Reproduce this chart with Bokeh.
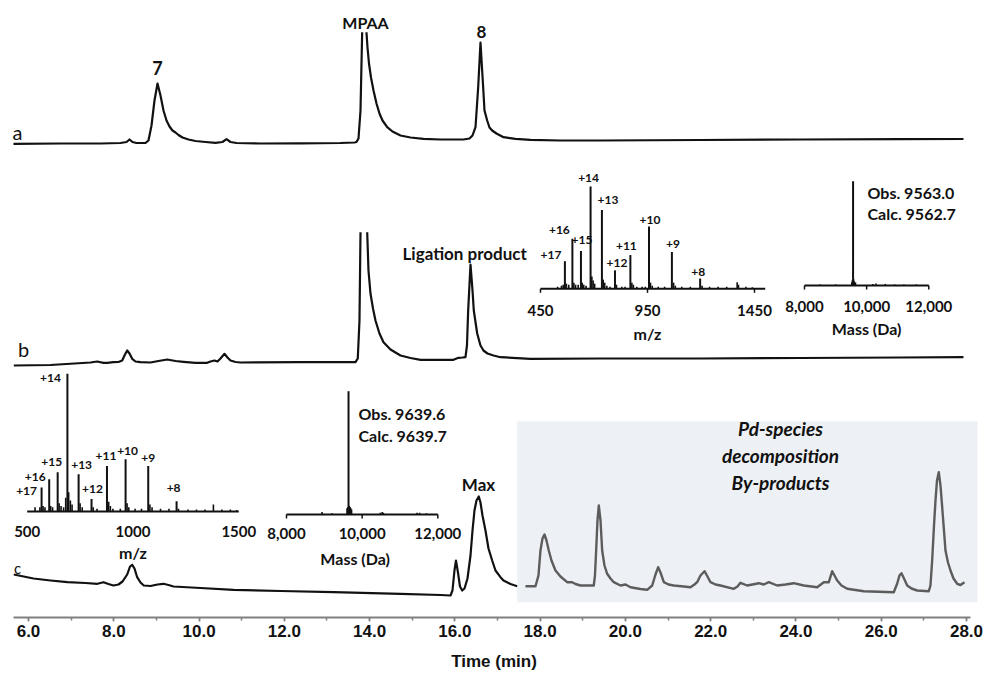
import numpy as np
from bokeh.plotting import figure
from bokeh.models import Range1d, SingleIntervalTicker, NumeralTickFormatter, BoxAnnotation
from bokeh.core.properties import value
from bokeh.embed import file_html
from bokeh.resources import INLINE

nan = float("nan")

# ---------------- data ----------------
# Chromatogram a (time in min, signal in arbitrary units above its baseline)
time_a = [5.648, 6.751, 7.689, 8.158, 8.299, 8.369, 8.439, 8.533, 8.744, 8.814, 8.885, 8.955,
          9.026, 9.096, 9.166, 9.237, 9.307, 9.377, 9.448, 9.518, 9.612, 9.753, 9.917, 10.151,
          10.386, 10.550, 10.644, 10.738, 10.878, 11.441, 12.379, 13.318, 13.646, 13.693, 13.740,
          13.787, 13.826, nan, 13.927, 13.951, 13.986, 14.033, 14.092, 14.162, 14.232, 14.303,
          14.413, 14.537, 14.725, 14.960, 15.264, 15.663, 16.202, 16.343, 16.414, 16.484, 16.547,
          16.601, 16.664, 16.695, 16.758, 16.812, 16.875, 16.976, 17.141, 17.422, 17.774, 18.477,
          19.416, 21.761, 24.106, 26.452, 27.929]
signal_a = [-0.3, 0, 0, 0.5, 1.5, 4, 1.5, 0.5, 0.5, 3, 18, 43,
            60, 48, 33, 23, 17, 13, 11, 8.5, 6, 4, 2.5, 1.5,
            0.7, 1.5, 4.3, 1.5, 0.5, 0, 0.2, 0.5, 1, 1.5, 5,
            33, 111.3, nan, 111.3, 96, 80, 66, 53, 40, 30, 23,
            16.3, 12, 8, 6, 4.7, 4, 4, 5, 8, 16.3, 56.3,
            101, 56.3, 33, 23, 16, 13, 10, 6.3, 4.7, 3.7, 3,
            3, 3.5, 4, 4.3, 4.5]

# Chromatogram b
time_b = [5.655, 6.516, 7.454, 7.611, 7.759, 7.846, 7.993, 8.111, 8.198, 8.263, 8.315, 8.369,
          8.432, 8.510, 8.627, 8.861, 9.049, 9.253, 9.448, 9.635, 9.917, 10.191, 10.269, 10.362,
          10.433, 10.503, 10.597, 10.667, 10.738, 10.855, 10.972, 12.379, 13.669, 13.723, 13.763,
          13.787, nan, 13.944, 13.974, 14.021, 14.080, 14.138, 14.232, 14.326, 14.490, 14.725,
          14.960, 15.194, 15.968, 16.085, 16.179, 16.249, 16.284, 16.312, 16.367, 16.414, 16.444,
          16.524, 16.601, 16.671, 16.765, 16.906, 17.070, 17.774, 19.416, 21.761, 24.106, 26.452,
          27.929]
signal_b = [0, 0.5, 3, 4, 2.7, 2.7, 3.3, 3.5, 5, 11, 15, 12,
            6.7, 4, 3.3, 3, 4.5, 6, 4.5, 3.7, 2.7, 2.7, 4, 5,
            4, 7, 11.7, 8, 5, 3.5, 3, 3.3, 3.3, 7, 45,
            133.3, nan, 133.3, 95, 72, 57, 45, 32, 23.3, 16, 10,
            7.5, 5.7, 5.7, 7.7, 8, 8.3, 20, 55, 101, 75, 55,
            32, 20, 15, 12, 10, 8.3, 6.7, 7, 7, 7.5, 8,
            8.3]

# Chromatogram c
time_c = [5.655, 6.117, 6.516, 6.915, 7.337, 7.618, 7.759, 7.876, 7.993, 8.111,
          8.205, 8.315, 8.381, 8.432, 8.486, 8.549, 8.627, 8.704, 8.861, 9.026,
          9.166, 9.284, 9.401, 10.034, 10.808, 11.910, 13.153, 14.725, 15.663, 15.898,
          15.944, 15.991, 16.026, 16.073, 16.120, 16.172, 16.226, 16.296, 16.367, 16.414,
          16.460, 16.507, 16.561, 16.601, 16.648, 16.718, 16.789, 16.875, 16.953, 17.070,
          17.141, 17.305, 17.462, 17.656, 17.891, 17.961, 18.008, 18.055, 18.102, 18.149,
          18.203, 18.266, 18.360, 18.477, 18.634, 18.752, 18.829, 18.946, 19.181, 19.258,
          19.286, 19.314, 19.345, 19.376, 19.416, 19.455, 19.509, 19.572, 19.650, 19.727,
          19.884, 20.002, 20.119, 20.354, 20.511, 20.628, 20.706, 20.769, 20.823, 20.901,
          21.011, 21.135, 21.369, 21.526, 21.620, 21.683, 21.761, 21.855, 21.925, 21.996,
          22.113, 22.230, 22.542, 22.629, 22.699, 22.856, 22.981, 23.128, 23.245, 23.363,
          23.560, 23.755, 23.949, 24.184, 24.498, 24.653, 24.771, 24.850, 24.904, 24.967,
          25.068, 25.202, 25.591, 26.295, 26.375, 26.428, 26.475, 26.534, 26.609, 26.710,
          26.844, 27.116, 27.155, 27.195, 27.238, 27.273, 27.308, 27.350, 27.390, 27.430,
          27.472, 27.507, 27.566, 27.625, 27.695, 27.782, 27.859, 27.953]
signal_c = [21, 17, 15, 13.3, 12.5, 11.7, 13.3, 11.5, 10, 11,
            14, 21, 29, 30.7, 27, 18.3, 13, 10, 9.5, 11,
            11.7, 10.5, 9, 7.5, 5.7, 4.5, 3.3, 1.7, 0.5, 0,
            5, 25, 35, 23, 9, 5, 7, 17, 40, 65,
            85, 95, 99, 93, 80, 65, 47, 35, 25, 18.3,
            15, 11.5, 9.3, 9.3, 9.3, 20, 45, 57, 61, 55,
            45, 35, 25, 19, 13.3, 13.3, 11.5, 10, 10, 10,
            20, 45, 75, 90, 75, 45, 30, 21.7, 17, 13.3,
            10, 11, 8.3, 6.5, 5.7, 10, 21, 28.3, 23, 13.3,
            11, 10, 9, 8.3, 11, 13.3, 20, 24.3, 19, 13.3,
            11, 10, 6.7, 9, 12.7, 10, 11, 12.3, 11, 13.3,
            10, 11, 12.3, 10, 8.3, 13.3, 13.3, 24.3, 20, 15,
            10, 6.7, 4.3, 3.3, 12, 20, 22.3, 17, 10, 7,
            5, 4.3, 10, 35, 70, 95, 115, 123.3, 110, 88.3,
            65, 45, 33, 25, 17, 11.7, 10.5, 13.3]

# ESI-MS insets (relative intensity, %)
charge_labels = ["+17", "+16", "+15", "+14", "+13", "+12", "+11", "+10", "+9", "+8"]
b_mz = [564, 599, 639, 684, 737, 798, 870, 957, 1064, 1196]
b_mz_int = [27, 49, 37, 100, 77, 18, 33, 61, 36, 10]
b_mz_minor = [530, 548, 556, 571, 582, 606, 614, 626, 645, 652, 663, 690, 696, 703, 743, 750,
              760, 775, 805, 830, 845, 877, 884, 900, 925, 940, 964, 972, 1000, 1030, 1072,
              1080, 1110, 1150, 1205, 1240, 1280, 1320, 1369, 1375, 1410, 1440]
b_mz_minor_int = [2, 3, 4, 5, 4, 6, 4, 4, 6, 4, 3, 12, 8, 5, 9, 6,
                  3, 2, 4, 2, 2, 6, 4, 2, 2, 2, 6, 3, 2, 2, 6,
                  3, 2, 2, 3, 2, 2, 2, 6.5, 4, 2, 1.5]
b_mass = [9563]
b_mass_int = [100]
b_mass_minor = [8500, 9000, 9520, 9540, 9580, 9600, 9640, 10200, 10300, 10600, 10900, 11200, 11600]
b_mass_minor_int = [1, 1, 3, 5, 6, 4, 3, 1.5, 2, 1.5, 1, 1, 1]

c_mz = [568, 604, 644, 690, 743, 804, 877, 965, 1072, 1206]
c_mz_int = [17.5, 23.5, 28.5, 100, 27, 9, 33, 38, 33, 7.5]
c_mz_minor = [537, 560, 575, 584, 611, 620, 651, 660, 672, 682, 696, 704, 712, 750, 760, 812,
              830, 885, 893, 905, 940, 972, 980, 1010, 1040, 1080, 1090, 1130, 1170, 1215,
              1260, 1300, 1340, 1380, 1420, 1460, 1490]
c_mz_minor_int = [3, 3, 4, 3, 4, 3, 6, 4, 3, 10, 14, 8, 5, 6, 3, 3,
                  2, 7, 4, 2, 2, 6, 3, 2, 2, 5, 3, 2, 2, 2,
                  1.5, 1.5, 1.5, 5, 1.5, 1.5, 1]
c_mass = [9640]
c_mass_int = [100]
c_mass_minor = [8940, 9200, 9600, 9620, 9660, 9680, 9700, 9720, 10480, 10530, 10560, 11450, 11520, 11700]
c_mass_minor_int = [2, 1, 5, 6, 7, 6, 5, 4, 1.5, 2, 1.5, 1.5, 1.5, 1]

mz_ticks_b = [450, 950, 1450]
mass_ticks = [8000, 10000, 12000]
mz_ticks_c = [500, 1000, 1500]

# ---------------- layout ----------------
W, H = 987, 683
FRAME_H = 617
PX_PER_MIN = 42.636
X_AT_6 = 28.0
x_start = 6.0 - X_AT_6 / PX_PER_MIN
x_end = x_start + W / PX_PER_MIN


def T(px):
    return x_start + px / PX_PER_MIN


def Y(py):
    return FRAME_H - py


FONT = value("Lato")
AXFONT = "Liberation Sans"
INK = "#111111"

p = figure(width=W, height=H, output_backend="svg", toolbar_location=None,
           x_range=Range1d(x_start, x_end), y_range=Range1d(0, FRAME_H),
           y_axis_location=None, min_border_left=0, min_border_right=0,
           min_border_top=0, min_border_bottom=H - FRAME_H)
p.outline_line_color = None
p.grid.visible = False
p.background_fill_color = "white"
p.border_fill_color = "white"

ax = p.xaxis[0]
ax.ticker = SingleIntervalTicker(interval=2, num_minor_ticks=2)
ax.formatter = NumeralTickFormatter(format="0.0")
ax.bounds = (T(13), T(970))
ax.axis_line_color = "#808080"
ax.axis_line_width = 2
ax.major_tick_line_color = "#808080"
ax.major_tick_line_width = 1.5
ax.major_tick_in = 0
ax.major_tick_out = 4
ax.minor_tick_line_color = "#808080"
ax.minor_tick_line_width = 1.5
ax.minor_tick_in = 0
ax.minor_tick_out = 3
ax.major_label_text_font = AXFONT
ax.major_label_text_font_style = "bold"
ax.major_label_text_font_size = "17px"
ax.major_label_text_color = INK
ax.major_label_standoff = 3
ax.axis_label = "Time (min)"
ax.axis_label_text_font = AXFONT
ax.axis_label_text_font_style = "bold"
ax.axis_label_text_font_size = "17px"
ax.axis_label_text_color = INK
ax.axis_label_standoff = 12

# shaded region of by-products
box_t0 = T(516.7)
p.add_layout(BoxAnnotation(left=box_t0, right=T(977), bottom=Y(601.7), top=Y(420.7),
                           fill_color="#edf0f4", fill_alpha=1.0, line_color=None,
                           level="underlay"))

# chromatograms
base_a, base_b, base_c = Y(143), Y(365), Y(595)
p.line(time_a, np.array(signal_a) + base_a, line_color=INK, line_width=2.2, line_join="round")
p.line(time_b, np.array(signal_b) + base_b, line_color=INK, line_width=2.2, line_join="round")
tc = np.array(time_c)
sc = np.array(signal_c) + base_c
m1 = tc <= box_t0 + 1e-6
m2 = tc >= box_t0 - 1e-6
p.line(tc[m1], sc[m1], line_color=INK, line_width=2.2, line_join="round")
p.line(tc[m2], sc[m2], line_color="#5c5c5c", line_width=2.4, line_join="round")


def txt(px, py, s, size, style="bold", align="center", color=INK):
    p.text(x=[T(px)], y=[Y(py)], text=[s], text_font=FONT, text_font_style=style,
           text_font_size=size, text_align=align, text_baseline="middle", text_color=color)


txt(17, 131, "a", "20px", "normal")
txt(23, 348, "b", "20px", "normal")
txt(17, 567, "c", "15px", "normal")
txt(157, 67, "7", "18px")
txt(365, 22, "MPAA", "16px")
txt(481, 31, "8", "17px")
txt(402, 253, "Ligation product", "17px", align="left")
txt(478, 484, "Max", "17px")
txt(780, 428, "Pd-species", "19px", "bold italic")
txt(780, 455, "decomposition", "19px", "bold italic")
txt(780, 482, "By-products", "19px", "bold italic")
txt(867, 192, "Obs. 9563.0", "16px", align="left")
txt(867, 213, "Calc. 9562.7", "16px", align="left")
txt(358, 413, "Obs. 9639.6", "16px", align="left")
txt(358, 435, "Calc. 9639.7", "16px", align="left")


# ---------------- insets ----------------
def add_inset(name, d0, d1, px0, px1, base_py, top_py):
    upp = (d1 - d0) / (px1 - px0)
    xs = d0 - px0 * upp
    vpp = 100.0 / (base_py - top_py)
    ys = -(FRAME_H - base_py) * vpp
    p.extra_x_ranges[name] = Range1d(xs, xs + W * upp)
    p.extra_y_ranges[name] = Range1d(ys, ys + FRAME_H * vpp)
    return vpp


def draw_inset(name, vpp, span, ticks, tick_text, tick_dy, ticks_on, title, title_dy, title_dx,
               xs, hs, xs_minor, hs_minor, labels=None, ldx=None, ldy=None, main_w=2.0):
    kw = dict(x_range_name=name, y_range_name=name)
    # sticks
    p.segment(x0=xs_minor, y0=[0] * len(xs_minor), x1=xs_minor, y1=hs_minor,
              line_color=INK, line_width=1.6, **kw)
    p.segment(x0=xs, y0=[0] * len(xs), x1=xs, y1=hs, line_color=INK, line_width=main_w, **kw)
    # axis line & ticks
    p.segment(x0=[span[0]], y0=[0], x1=[span[1]], y1=[0], line_color=INK, line_width=2, **kw)
    if ticks_on:
        p.segment(x0=ticks, y0=[0] * len(ticks), x1=ticks, y1=[-4 * vpp] * len(ticks),
                  line_color=INK, line_width=1.5, **kw)
    p.text(x=ticks, y=[0] * len(ticks), text=tick_text, y_offset=tick_dy, text_font=FONT,
           text_font_style="bold", text_font_size="15px", text_align="center",
           text_baseline="middle", text_color=INK, **kw)
    p.text(x=[ticks[1]], y=[0], text=[title], y_offset=title_dy, x_offset=title_dx,
           text_font=FONT, text_font_style="bold", text_font_size="16px", text_align="center",
           text_baseline="middle", text_color=INK, **kw)
    if labels:
        p.text(x=xs, y=hs, text=labels, x_offset=ldx, y_offset=[-d for d in ldy],
               text_font=FONT, text_font_style="bold", text_font_size="12px",
               text_align="center", text_baseline="middle", text_color=INK, **kw)


v = add_inset("bmz", 450, 1450, 540, 754, 288.3, 186)
draw_inset("bmz", v, (450, 1500), mz_ticks_b, [str(t) for t in mz_ticks_b], 22, True, "m/z", 45, 0,
           b_mz, b_mz_int, b_mz_minor, b_mz_minor_int, charge_labels,
           [-14, -13, 1, -2, 6, 2, -4, 1, 1, -2], [6, 9, 11, 9, 10, 7, 9, 6, 8, 7])

v = add_inset("bmass", 8000, 12000, 804, 928.3, 285, 180.7)
draw_inset("bmass", v, (8000, 12000), mass_ticks, ["{:,}".format(t) for t in mass_ticks], 21, True,
           "Mass (Da)", 43, 0, b_mass, b_mass_int, b_mass_minor, b_mass_minor_int)

v = add_inset("cmz", 500, 1500, 26.7, 238.3, 511, 373.3)
draw_inset("cmz", v, (500, 1500), mz_ticks_c, [str(t) for t in mz_ticks_c], 20, False, "m/z", 41, 0,
           c_mz, c_mz_int, c_mz_minor, c_mz_minor_int, charge_labels,
           [-15, -14, -6, -17, 3, 1, -1, 2, 0, -3], [-4, 2, 10, -4, 9, 10, 10, 8, 8, 13])

v = add_inset("cmass", 8000, 12000, 286, 437.3, 514, 390.7)
draw_inset("cmass", v, (8000, 12000), mass_ticks, ["{:,}".format(t) for t in mass_ticks], 19, True,
           "Mass (Da)", 44, -7, c_mass, c_mass_int, c_mass_minor, c_mass_minor_int)

open("out.html", "w").write(file_html(p, INLINE))
